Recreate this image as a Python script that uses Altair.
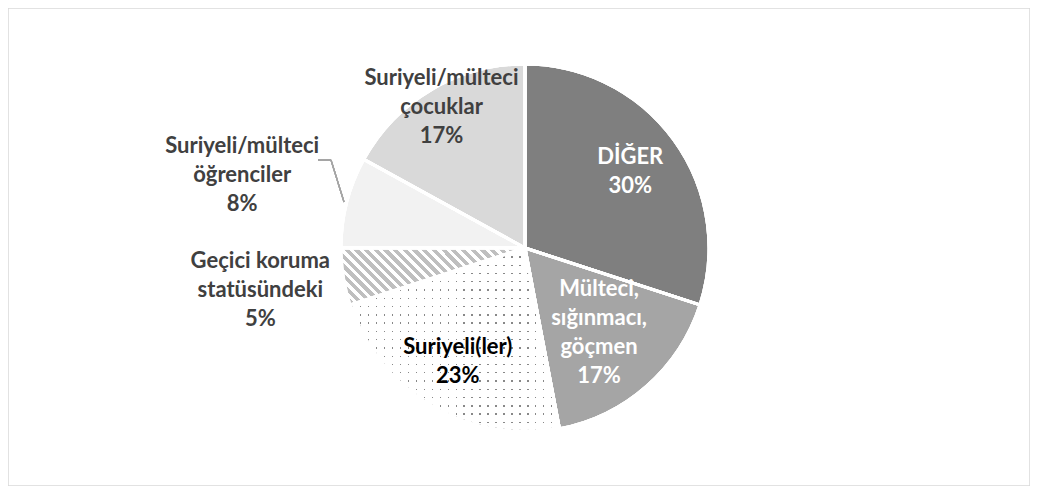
import altair as alt
import pandas as pd

categories = ["DİĞER", "Mülteci, sığınmacı, göçmen", "Suriyeli(ler)",
              "Geçici koruma statüsündeki", "Suriyeli/mülteci öğrenciler",
              "Suriyeli/mülteci çocuklar"]
values = [30, 17, 23, 5, 8, 17]
labels = ["DİĞER\n30%", "Mülteci,\nsığınmacı,\ngöçmen\n17%", "Suriyeli(ler)\n23%",
          "Geçici koruma\nstatüsündeki\n5%", "Suriyeli/mülteci\nöğrenciler\n8%",
          "Suriyeli/mülteci\nçocuklar\n17%"]
fills = ["#7f7f7f", "#a5a5a5", "#ffffff", "#ffffff", "#f2f2f2", "#d9d9d9"]
text_colors = ["#ffffff", "#ffffff", "#000000", "#404040", "#404040", "#404040"]
label_radius = [130, 112, 132, 268, 292, 164]

df = pd.DataFrame({"cat": categories, "val": values, "label": labels,
                   "idx": list(range(len(categories)))})

CX, CY = 517, 240
R = 184
LH = 29


def stripes(n, on, off, frac, x1, y1, x2, y2):
    stops = []
    for i in range(n):
        a = i / n
        b = (i + frac) / n
        c = (i + 1) / n
        stops += [{"offset": a, "color": on}, {"offset": b, "color": on},
                  {"offset": b, "color": off}, {"offset": c, "color": off}]
    return {"gradient": "linear", "x1": x1, "y1": y1, "x2": x2, "y2": y2, "stops": stops}


hatch = stripes(25, "#bfbfbf", "#ffffff", 0.55, 0, 1, 1.2, 0.63)
dot_cols = stripes(26, "#888888", "#ffffff", 0.16, 0, 0, 1, 0)
dot_rows = stripes(22, "rgba(255,255,255,0)", "#ffffff", 0.16, 0, 0, 0, 1)

base = alt.Chart(df).encode(
    theta=alt.Theta("val:Q", stack=True),
    order=alt.Order("idx:Q"),
)

pie = base.mark_arc(stroke="white", strokeWidth=3).encode(
    x=alt.value(CX), y=alt.value(CY),
    radius=alt.value(R),
    color=alt.Color("cat:N", scale=alt.Scale(domain=categories, range=fills), legend=None),
)

hatch_layer = base.mark_arc(stroke="white", strokeWidth=3).encode(
    x=alt.value(CX), y=alt.value(CY), radius=alt.value(R),
    fill=alt.condition(alt.datum.cat == categories[3], alt.value(hatch), alt.value("transparent")),
)
dots1 = base.mark_arc(strokeWidth=0).encode(
    x=alt.value(CX), y=alt.value(CY), radius=alt.value(R - 2),
    fill=alt.condition(alt.datum.cat == categories[2], alt.value(dot_cols), alt.value("transparent")),
)
dots2 = base.mark_arc(strokeWidth=0).encode(
    x=alt.value(CX), y=alt.value(CY), radius=alt.value(R - 2),
    fill=alt.condition(alt.datum.cat == categories[2], alt.value(dot_rows), alt.value("transparent")),
)
outline = base.mark_arc(stroke="white", strokeWidth=3, fillOpacity=0).encode(
    x=alt.value(CX), y=alt.value(CY), radius=alt.value(R),
    fill=alt.value("white"),
)

text_layers = []
for i, cat in enumerate(categories):
    nlines = labels[i].count("\n") + 1
    t = base.mark_text(font="Lato", fontWeight="bold", fontSize=22, lineBreak="\n",
                       lineHeight=LH, align="center", baseline="middle",
                       dy=-(nlines - 1) * LH / 2,
                       color=text_colors[i]).encode(
        x=alt.value(CX), y=alt.value(CY),
        radius=alt.value(label_radius[i]),
        text=alt.condition(alt.datum.cat == cat, "label:N", alt.value("")),
    )
    text_layers.append(t)

leader1 = alt.Chart(df).mark_rule(color="#a6a6a6", strokeWidth=1.2).encode(
    x=alt.value(310), x2=alt.value(323), y=alt.value(152), y2=alt.value(152))
leader2 = alt.Chart(df).mark_rule(color="#a6a6a6", strokeWidth=1.2).encode(
    x=alt.value(323), x2=alt.value(336), y=alt.value(152), y2=alt.value(194))

chart = alt.layer(pie, hatch_layer, dots1, dots2, outline, *text_layers, leader1, leader2).properties(
    width=1022, height=478, padding=0, autosize=alt.AutoSizeParams(type="none")
).configure_view(stroke="#d9d9d9", strokeWidth=1.5)

chart.save("out.html", embed_options={"renderer": "svg", "actions": False})
